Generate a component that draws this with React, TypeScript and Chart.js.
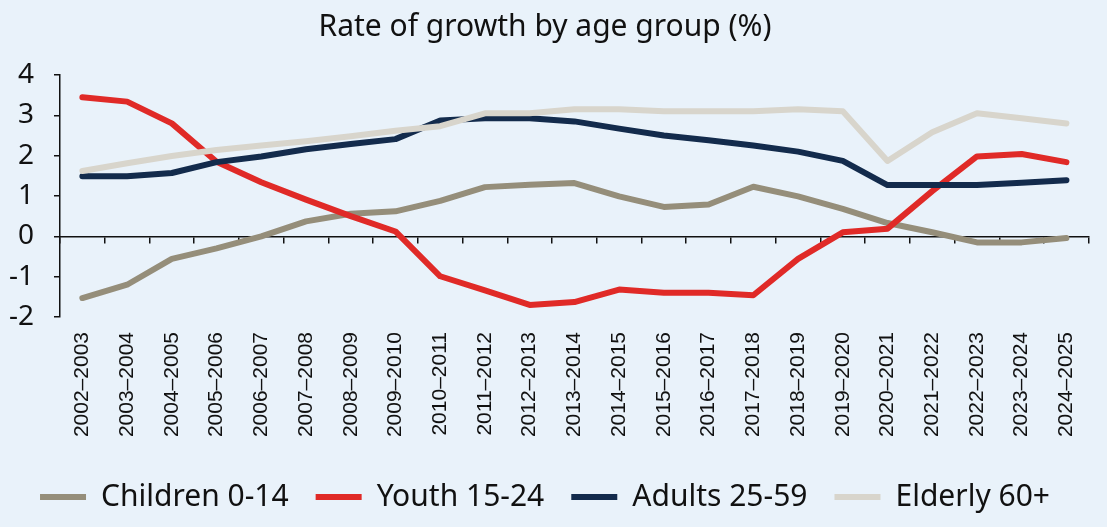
import React, { useEffect, useRef } from 'react';
import { Chart, registerables } from 'chart.js';

Chart.register(...registerables);

const categories = [
  '2002–2003', '2003–2004', '2004–2005', '2005–2006', '2006–2007', '2007–2008',
  '2008–2009', '2009–2010', '2010–2011', '2011–2012', '2012–2013', '2013–2014',
  '2014–2015', '2015–2016', '2016–2017', '2017–2018', '2018–2019', '2019–2020',
  '2020–2021', '2021–2022', '2022–2023', '2023–2024', '2024–2025',
];

const children = [-1.53, -1.2, -0.56, -0.3, 0.0, 0.37, 0.56, 0.62, 0.88, 1.22, 1.28, 1.32, 0.99, 0.73, 0.79, 1.23, 0.99, 0.68, 0.33, 0.1, -0.15, -0.15, -0.04];
const youth = [3.45, 3.34, 2.8, 1.85, 1.34, 0.91, 0.5, 0.12, -0.99, -1.34, -1.7, -1.63, -1.32, -1.4, -1.4, -1.46, -0.56, 0.1, 0.19, 1.12, 1.98, 2.04, 1.84];
const adults = [1.49, 1.49, 1.57, 1.84, 1.98, 2.16, 2.29, 2.41, 2.87, 2.93, 2.93, 2.85, 2.67, 2.5, 2.38, 2.25, 2.1, 1.87, 1.27, 1.27, 1.27, 1.33, 1.39];
const elderly = [1.62, 1.81, 1.99, 2.14, 2.25, 2.36, 2.48, 2.62, 2.73, 3.05, 3.05, 3.15, 3.15, 3.1, 3.1, 3.1, 3.15, 3.1, 1.87, 2.58, 3.05, 2.93, 2.8];

const seriesNames = ['Children 0-14', 'Youth 15-24', 'Adults 25-59', 'Elderly 60+'];
const yMin = -2;
const yMax = 4;
const yStep = 1;
const titleText = 'Rate of growth by age group (%)';

const BG = '#e9f2fa';

export default function App() {
  const canvasRef = useRef<HTMLCanvasElement | null>(null);

  useEffect(() => {
    document.body.style.margin = '0';
    const canvas = canvasRef.current;
    if (!canvas) return;
    const mk = (label: string, data: number[], color: string, order: number) => ({
      label,
      data,
      borderColor: color,
      backgroundColor: color,
      borderWidth: 6,
      pointRadius: 0,
      pointHoverRadius: 0,
      tension: 0,
      borderCapStyle: 'round' as const,
      borderJoinStyle: 'round' as const,
      fill: false,
      order,
      xAxisID: 'x0',
    });
    const chart = new Chart(canvas, {
      type: 'line',
      data: {
        labels: categories,
        datasets: [
          mk(seriesNames[0], children, '#958e7a', 3),
          mk(seriesNames[1], youth, '#e02a27', 2),
          mk(seriesNames[2], adults, '#132b4c', 1),
          mk(seriesNames[3], elderly, '#d8d5cc', 0),
        ],
      },
      options: {
        responsive: false,
        animation: false,
        events: [],
        layout: { padding: { left: 0, right: 17, top: 0, bottom: 5 } },
        plugins: {
          tooltip: { enabled: false },
          title: {
            display: true,
            text: titleText,
            color: '#111',
            font: { family: 'Noto Sans', size: 30, weight: 'normal' },
            padding: { top: 9, bottom: 30 },
          },
          legend: {
            display: true,
            position: 'bottom',
            labels: {
              usePointStyle: true,
              pointStyle: 'line',
              pointStyleWidth: 46,
              boxHeight: 6,
              padding: 27,
              color: '#111',
              font: { family: 'Noto Sans', size: 30 },
              sort: (a: any, b: any) => a.datasetIndex - b.datasetIndex,
            },
          },
        },
        scales: {
          x: {
            type: 'category',
            position: 'bottom',
            offset: true,
            grid: { display: false, drawTicks: false },
            border: { display: false },
            ticks: {
              minRotation: 90,
              maxRotation: 90,
              autoSkip: false,
              padding: 15,
              color: '#111',
              font: { family: 'Liberation Sans', size: 21 },
            },
            afterFit: (scale: any) => {
              scale.height = 138;
            },
          },
          x0: {
            type: 'category',
            axis: 'x',
            position: { y: 0 },
            offset: true,
            grid: {
              offset: true,
              drawOnChartArea: false,
              drawTicks: true,
              tickLength: 6,
              color: '#111',
              lineWidth: 1.5,
            },
            border: { display: true, color: '#111', width: 1.5 },
            ticks: { display: false },
          },
          y: {
            type: 'linear',
            min: yMin,
            max: yMax,
            ticks: {
              stepSize: yStep,
              padding: 20,
              color: '#111',
              font: { family: 'Noto Sans', size: 28 },
            },
            grid: {
              drawOnChartArea: false,
              drawTicks: true,
              tickLength: 6,
              color: '#111',
              lineWidth: 1.5,
            },
            border: { display: true, color: '#111', width: 1.5 },
            afterFit: (scale: any) => {
              scale.width = 60;
            },
          },
        },
      } as any,
    });
    return () => chart.destroy();
  }, []);

  return (
    <div style={{ width: 1107, height: 527, background: BG }}>
      <canvas ref={canvasRef} width={1107} height={527} style={{ display: 'block' }} />
    </div>
  );
}
